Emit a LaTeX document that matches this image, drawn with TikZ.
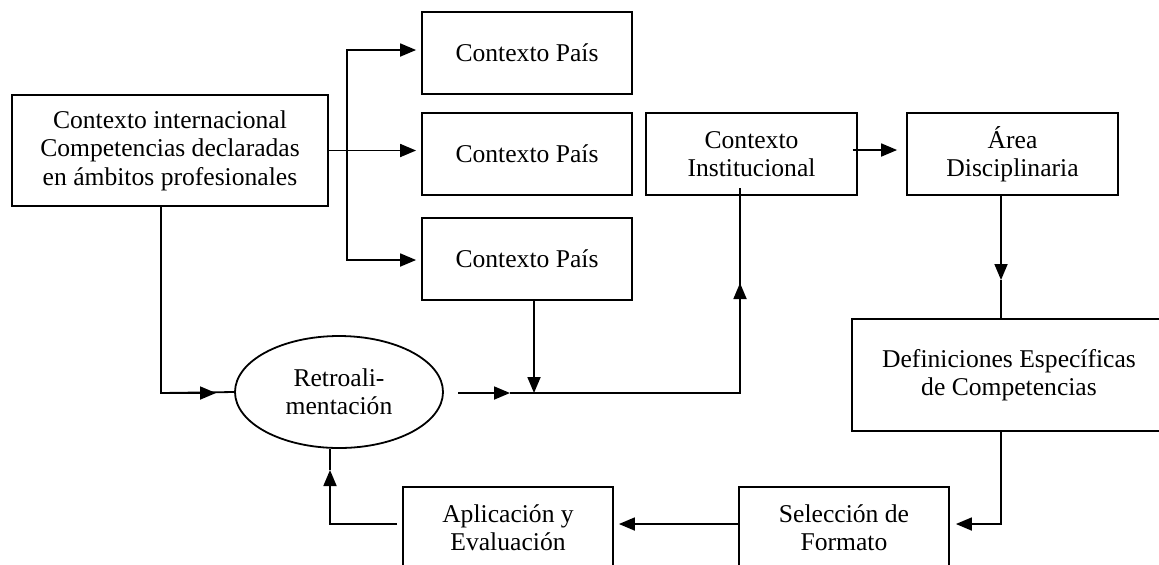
\documentclass[tikz,border=0pt]{standalone}
\usepackage{fontspec}
\setmainfont{Liberation Serif}
\usetikzlibrary{arrows.meta,shapes.geometric}
\begin{document}
\begin{tikzpicture}[x=0.5pt,y=-0.5pt,
  every node/.style={font=\fontsize{12.8}{14.2}\selectfont},
  box/.style={draw, line width=0.9pt, inner sep=0pt, align=center, minimum height=41pt},
  ln/.style={line width=0.9pt},
  arr/.style={ln, -{Triangle[length=8pt,width=6.5pt]}},
]
\useasboundingbox (0,0) rectangle (1159,564);
\clip (0,0) rectangle (1159,564);
% nodes
\node[box, minimum width=158pt, minimum height=55.5pt] (ci) at (170,150.5) {Contexto internacional\\Competencias declaradas\\en ámbitos profesionales};
\node[box, minimum width=105pt] (p1) at (527,53) {Contexto País};
\node[box, minimum width=105pt] (p2) at (527,154) {Contexto País};
\node[box, minimum width=105pt] (p3) at (527,259) {Contexto País};
\node[box, minimum width=105.5pt] (inst) at (751.5,154) {Contexto\\Institucional};
\node[box, minimum width=105.5pt] (area) at (1012.5,154) {Área\\Disciplinaria};
\node[box, minimum width=157pt, minimum height=56pt] (def) at (1009,375) {Definiciones Específicas\\de Competencias};
\node[box, minimum width=105pt] (sel) at (844,528) {Selección de\\Formato};
\node[box, minimum width=105pt] (apl) at (508,528) {Aplicación y\\Evaluación};
\node[draw, ellipse, line width=0.9pt, minimum width=104pt, minimum height=56pt, inner sep=0pt, align=center] (ret) at (339,392) {Retroali-\\mentación};
% coordinates
\coordinate (br) at (347,151);
\coordinate (c1) at (161,393);
\coordinate (t1) at (216,393);
\coordinate (s2) at (458,393);
\coordinate (t2) at (510,393);
\coordinate (j) at (740,393);
\coordinate (t3) at (740,283);
\coordinate (t4) at (534,393);
\coordinate (t5) at (1001,280);
\coordinate (c6) at (1001,524);
\coordinate (c7) at (330,524);
\coordinate (t7) at (330,470);
% connectors
\draw[arr, shorten >=2.5pt] (ci.east) -- (ci.east -| p2.west);
\draw[arr, shorten >=2.5pt] (br) |- ([yshift=1.5pt]p1.west);
\draw[arr, shorten >=2.5pt] (br) |- ([yshift=-0.5pt]p3.west);
\draw[ln] (ci.south -| c1) -- (c1) -- (ret.west);
\draw[arr] (c1) -- (t1);
\draw[arr] (s2) -- (t2);
\draw[ln] (t2) -- (j) -- ([yshift=4pt]inst.south -| j);
\draw[arr] (j) -- (t3);
\draw[arr] (p3.south -| t4) -- (t4);
\draw[arr, shorten >=4.5pt] ([xshift=-2.5pt,yshift=2pt]inst.east) -- ([yshift=2pt]inst.east -| area.west);
\draw[arr] (area.south -| t5) -- (t5);
\draw[ln] (t5) -- (t5 |- def.north);
\draw[arr, shorten >=3pt] (def.south -| c6) -- (c6) -- (c6 -| sel.east);
\draw[arr, shorten >=2.5pt] (sel.west |- c6) -- (apl.east |- c6);
\draw[arr] ([xshift=-2.5pt]apl.west |- c7) -- (c7) -- (t7);
\draw[ln] (t7) -- (t7 |- ret.south);
\end{tikzpicture}
\end{document}
